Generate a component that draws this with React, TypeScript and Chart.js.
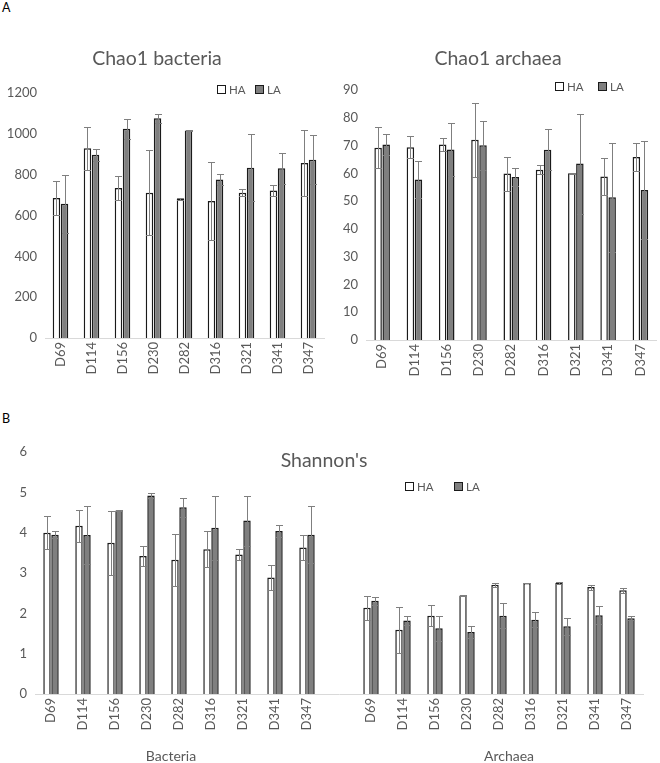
import React, { useEffect, useRef } from "react";
import { Chart, registerables } from "chart.js";
Chart.register(...registerables);

// ---------- data ----------
const days = ["D69", "D114", "D156", "D230", "D282", "D316", "D321", "D341", "D347"];

const chaoBacHA = [686, 929, 735, 712, 681, 671, 712, 723, 857];
const chaoBacHAErr = [82, 106, 60, 209, 3, 191, 18, 26, 163];
const chaoBacLA = [658, 898, 1025, 1076, 1016, 776, 834, 831, 873];
const chaoBacLAErr = [142, 29, 49, 23, 4, 26, 164, 77, 121];

const chaoArcHA = [69.2, 69.4, 70.4, 72.1, 59.9, 61.3, 60.0, 58.9, 65.9];
const chaoArcHAErr = [7.4, 4.0, 2.5, 13.3, 6.1, 1.6, 0.3, 6.8, 4.9];
const chaoArcLA = [70.4, 57.8, 68.6, 70.1, 58.7, 68.5, 63.5, 51.4, 54.0];
const chaoArcLAErr = [3.8, 6.5, 9.4, 8.8, 3.4, 7.3, 18.0, 19.7, 17.5];

const shanBacHA = [4.0, 4.17, 3.75, 3.42, 3.33, 3.59, 3.46, 2.89, 3.63];
const shanBacHAErr = [0.41, 0.4, 0.79, 0.24, 0.64, 0.45, 0.14, 0.3, 0.31];
const shanBacLA = [3.95, 3.94, 4.55, 4.92, 4.63, 4.12, 4.3, 4.04, 3.95];
const shanBacLAErr = [0.08, 0.72, 0.01, 0.06, 0.23, 0.8, 0.62, 0.15, 0.7];

const shanArcHA = [2.14, 1.59, 1.94, 2.44, 2.71, 2.75, 2.75, 2.65, 2.57];
const shanArcHAErr = [0.3, 0.57, 0.26, 0.02, 0.05, 0.01, 0.02, 0.06, 0.07];
const shanArcLA = [2.31, 1.82, 1.63, 1.54, 1.94, 1.84, 1.68, 1.95, 1.88];
const shanArcLAErr = [0.1, 0.12, 0.31, 0.15, 0.31, 0.19, 0.21, 0.22, 0.05];

const seriesNames = ["HA", "LA"];

// ---------- styles ----------
const FONT = "Lato, 'Open Sans', sans-serif";
const TEXT = "#595959";
const HA_FILL = "#ffffff";
const LA_FILL = "#7f7f7f";
const BAR_BORDER = "#1a1a1a";
const ERR_COLOR = "#7f7f7f";

const errorBarPlugin = {
  id: "errorBars",
  afterDatasetsDraw(chart: any, _args: any, opts: any) {
    const ctx = chart.ctx;
    const yScale = chart.scales.y;
    const errs = opts.errors || [];
    const cap = opts.cap || 3.5;
    chart.data.datasets.forEach((ds: any, di: number) => {
      const e = errs[di];
      if (!e) return;
      const meta = chart.getDatasetMeta(di);
      meta.data.forEach((el: any, i: number) => {
        const v = ds.data[i];
        const err = e[i];
        if (v == null || err == null) return;
        const x = Math.round(el.x) + 0.5;
        const yT = Math.round(yScale.getPixelForValue(v + err)) + 0.5;
        const yB = Math.round(yScale.getPixelForValue(Math.max(v - err, 0))) + 0.5;
        ctx.save();
        ctx.strokeStyle = opts.color || ERR_COLOR;
        ctx.lineWidth = 1;
        ctx.beginPath();
        ctx.moveTo(x, yT);
        ctx.lineTo(x, yB);
        ctx.moveTo(x - cap, yT);
        ctx.lineTo(x + cap, yT);
        ctx.moveTo(x - cap, yB);
        ctx.lineTo(x + cap, yB);
        ctx.stroke();
        ctx.restore();
      });
    });
  },
};

type BarChartProps = {
  labels: string[];
  ha: (number | null)[];
  la: (number | null)[];
  haErr: (number | null)[];
  laErr: (number | null)[];
  yMax: number;
  yStep: number;
  width: number;
  height: number;
  left: number;
  top: number;
  padTop: number;
  padRight: number;
  yAxisWidth: number;
  xAxisHeight: number;
  catPct: number;
};

function BarChart(p: BarChartProps) {
  const ref = useRef<HTMLCanvasElement>(null);
  useEffect(() => {
    if (!ref.current) return;
    const chart = new Chart(ref.current, {
      type: "bar",
      data: {
        labels: p.labels,
        datasets: [
          {
            label: seriesNames[0],
            data: p.ha,
            backgroundColor: HA_FILL,
            borderColor: BAR_BORDER,
            borderWidth: 1.5,
            categoryPercentage: p.catPct,
            barPercentage: 0.93,
          },
          {
            label: seriesNames[1],
            data: p.la,
            backgroundColor: LA_FILL,
            borderColor: BAR_BORDER,
            borderWidth: 1.5,
            categoryPercentage: p.catPct,
            barPercentage: 0.93,
          },
        ],
      },
      options: {
        responsive: false,
        animation: false,
        devicePixelRatio: 1,
        layout: {
          autoPadding: false,
          padding: { top: p.padTop, right: p.padRight, left: 0, bottom: 0 },
        },
        plugins: {
          legend: { display: false },
          title: { display: false },
          tooltip: { enabled: false },
          errorBars: { errors: [p.haErr, p.laErr], color: ERR_COLOR, cap: 3.5 },
        } as any,
        scales: {
          x: {
            offset: true,
            grid: { display: false, drawTicks: false },
            border: { display: true, color: "#d9d9d9", width: 1 },
            ticks: {
              autoSkip: false,
              minRotation: 90,
              maxRotation: 90,
              padding: 4,
              color: TEXT,
              font: { family: FONT, size: 13 },
            },
            afterFit: (s: any) => {
              s.height = p.xAxisHeight;
            },
          },
          y: {
            min: 0,
            max: p.yMax,
            grid: { display: false, drawTicks: false },
            border: { display: false },
            ticks: {
              stepSize: p.yStep,
              padding: 8,
              color: TEXT,
              font: { family: FONT, size: 13 },
              callback: (v: any) => String(v),
            },
            afterFit: (s: any) => {
              s.width = p.yAxisWidth;
            },
          },
        },
      },
      plugins: [errorBarPlugin],
    });
    return () => chart.destroy();
  }, []);
  return (
    <canvas
      ref={ref}
      width={p.width}
      height={p.height}
      style={{ position: "absolute", left: p.left, top: p.top, width: p.width, height: p.height }}
    />
  );
}

function Text(props: { x: number; y: number; size: number; children: any; color?: string; anchor?: "center" | "left" }) {
  const { x, y, size, children, color, anchor } = props;
  return (
    <div
      style={{
        position: "absolute",
        left: x,
        top: y,
        transform: anchor === "left" ? "translate(0,-50%)" : "translate(-50%,-50%)",
        fontFamily: FONT,
        fontSize: size,
        lineHeight: 1,
        color: color || TEXT,
        whiteSpace: "nowrap",
      }}
    >
      {children}
    </div>
  );
}

function Legend(props: { haX: number; laX: number; y: number }) {
  const box = (x: number, fill: string) => (
    <div
      style={{
        position: "absolute",
        left: x,
        top: props.y,
        width: 9,
        height: 9,
        boxSizing: "border-box",
        border: `1.5px solid ${BAR_BORDER}`,
        background: fill,
      }}
    />
  );
  return (
    <>
      {box(props.haX, HA_FILL)}
      <Text x={props.haX + 12} y={props.y + 4.5} size={11.5} anchor="left">
        {seriesNames[0]}
      </Text>
      {box(props.laX, LA_FILL)}
      <Text x={props.laX + 12} y={props.y + 4.5} size={11.5} anchor="left">
        {seriesNames[1]}
      </Text>
    </>
  );
}

export default function App() {
  const bottomLabels = [...days, "", ...days];
  const bHA = [...shanBacHA, null, ...shanArcHA];
  const bLA = [...shanBacLA, null, ...shanArcLA];
  const bHAErr = [...shanBacHAErr, null, ...shanArcHAErr];
  const bLAErr = [...shanBacLAErr, null, ...shanArcLAErr];
  return (
    <div
      style={{
        position: "absolute",
        left: 0,
        top: 0,
        width: 660,
        height: 763,
        background: "#fff",
        overflow: "hidden",
      }}
    >
      <Text x={2} y={7.5} size={12.5} color="#000" anchor="left">A</Text>
      <Text x={2} y={419} size={12.5} color="#000" anchor="left">B</Text>

      <BarChart
        labels={days}
        ha={chaoBacHA}
        la={chaoBacLA}
        haErr={chaoBacHAErr}
        laErr={chaoBacLAErr}
        yMax={1200}
        yStep={200}
        width={330}
        height={390}
        left={0}
        top={0}
        padTop={93}
        padRight={6}
        yAxisWidth={45}
        xAxisHeight={52}
        catPct={0.52}
      />
      <Text x={157} y={57.5} size={19.5}>Chao1 bacteria</Text>
      <Legend haX={217} laX={255} y={85} />

      <BarChart
        labels={days}
        ha={chaoArcHA}
        la={chaoArcLA}
        haErr={chaoArcHAErr}
        laErr={chaoArcLAErr}
        yMax={90}
        yStep={10}
        width={330}
        height={390}
        left={330}
        top={0}
        padTop={90}
        padRight={0}
        yAxisWidth={36}
        xAxisHeight={50}
        catPct={0.5}
      />
      <Text x={498} y={58} size={19.5}>Chao1 archaea</Text>
      <Legend haX={555} laX={598} y={82} />

      <BarChart
        labels={bottomLabels}
        ha={bHA}
        la={bLA}
        haErr={bHAErr}
        laErr={bLAErr}
        yMax={6}
        yStep={1}
        width={660}
        height={363}
        left={0}
        top={400}
        padTop={52}
        padRight={17}
        yAxisWidth={35}
        xAxisHeight={69}
        catPct={0.5}
      />
      <Text x={324} y={460} size={19.5}>Shannon's</Text>
      <Legend haX={405} laX={454} y={482} />
      <Text x={171} y={756} size={14}>Bacteria</Text>
      <Text x={509} y={756} size={14}>Archaea</Text>
    </div>
  );
}
